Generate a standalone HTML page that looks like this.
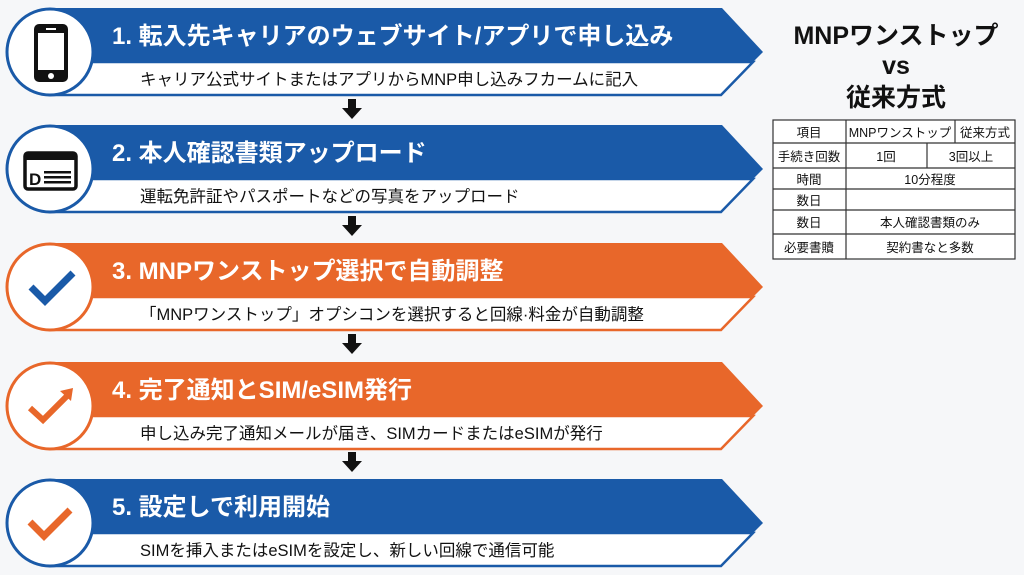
<!DOCTYPE html>
<html><head><meta charset="utf-8"><style>
body{margin:0;width:1024px;height:575px;background:#f6f7f9;overflow:hidden}
svg{display:block}
text{font-family:"Liberation Sans","Noto Sans CJK JP",sans-serif}
</style></head><body>
<svg width="1024" height="575" viewBox="0 0 1024 575">
<defs>
<g id="arr"><rect x="-4" y="0" width="8" height="10" fill="#111"/><polygon points="-10,9 10,9 0,20" fill="#111"/></g>
</defs>
<g>
<polygon points="50,8 722,8 763,52 753,62 50,62" fill="#1a5aa8"/>
<polygon points="50,62 753,62 721,95 50,95" fill="#fff" stroke="#1a5aa8" stroke-width="2.5"/>
<circle cx="50" cy="52" r="43" fill="#fff" stroke="#1a5aa8" stroke-width="3"/>
<rect x="34" y="24" width="34" height="58" rx="5" fill="#111"/><rect x="38" y="33" width="26" height="37" fill="#fff"/><circle cx="51" cy="76" r="3" fill="#fff"/><rect x="46" y="28" width="10" height="2" fill="#fff"/>
<text x="112" y="44" font-size="24" font-weight="bold" fill="#fff">1. 転入先キャリアのウェブサイト/アプリで申し込み</text>
<text x="140" y="85" font-size="16.5" fill="#111">キャリア公式サイトまたはアプリからMNP申し込みフカームに記入</text>
</g>
<use href="#arr" x="352" y="99"/>
<g>
<polygon points="50,125 722,125 763,169 753,179 50,179" fill="#1a5aa8"/>
<polygon points="50,179 753,179 721,212 50,212" fill="#fff" stroke="#1a5aa8" stroke-width="2.5"/>
<circle cx="50" cy="169" r="43" fill="#fff" stroke="#1a5aa8" stroke-width="3"/>
<rect x="25" y="153" width="51" height="36" rx="3" fill="none" stroke="#111" stroke-width="3.5"/><rect x="25" y="153" width="51" height="7" fill="#111"/>
<text x="29" y="185" font-size="17" font-weight="bold" fill="#111">D</text>
<rect x="44" y="171" width="27" height="2.5" fill="#111"/><rect x="44" y="176" width="27" height="2.5" fill="#111"/><rect x="44" y="181" width="27" height="2.5" fill="#111"/>
<text x="112" y="161" font-size="24" font-weight="bold" fill="#fff">2. 本人確認書類アップロード</text>
<text x="140" y="202" font-size="16.5" fill="#111">運転免許証やパスポートなどの写真をアップロード</text>
</g>
<use href="#arr" x="352" y="216"/>
<g>
<polygon points="50,243 722,243 763,287 753,297 50,297" fill="#e8672a"/>
<polygon points="50,297 753,297 721,330 50,330" fill="#fff" stroke="#e8672a" stroke-width="2.5"/>
<circle cx="50" cy="287" r="43" fill="#fff" stroke="#e8672a" stroke-width="3"/>
<polyline points="31,287 45,301 73,273" fill="none" stroke="#1a5aa8" stroke-width="7"/>
<text x="112" y="279" font-size="24" font-weight="bold" fill="#fff">3. MNPワンストップ選択で自動調整</text>
<text x="140" y="320" font-size="16.5" fill="#111">「MNPワンストップ」オプシコンを選択すると回線·料金が自動調整</text>
</g>
<use href="#arr" x="352" y="334"/>
<g>
<polygon points="50,362 722,362 763,406 753,416 50,416" fill="#e8672a"/>
<polygon points="50,416 753,416 721,449 50,449" fill="#fff" stroke="#e8672a" stroke-width="2.5"/>
<circle cx="50" cy="406" r="43" fill="#fff" stroke="#e8672a" stroke-width="3"/>
<polyline points="30,408 43,420 68,395" fill="none" stroke="#e8672a" stroke-width="6"/>
<polygon points="60,391 73,388 71,401" fill="#e8672a"/>
<text x="112" y="398" font-size="24" font-weight="bold" fill="#fff">4. 完了通知とSIM/eSIM発行</text>
<text x="140" y="439" font-size="16.5" fill="#111">申し込み完了通知メールが届き、SIMカードまたはeSIMが発行</text>
</g>
<use href="#arr" x="352" y="452"/>
<g>
<polygon points="50,479 722,479 763,523 753,533 50,533" fill="#1a5aa8"/>
<polygon points="50,533 753,533 721,566 50,566" fill="#fff" stroke="#1a5aa8" stroke-width="2.5"/>
<circle cx="50" cy="523" r="43" fill="#fff" stroke="#1a5aa8" stroke-width="3"/>
<polyline points="30,522 44,536 70,510" fill="none" stroke="#e8672a" stroke-width="7"/>
<text x="112" y="515" font-size="24" font-weight="bold" fill="#fff">5. 設定しで利用開始</text>
<text x="140" y="556" font-size="16.5" fill="#111">SIMを挿入またはeSIMを設定し、新しい回線で通信可能</text>
</g>
<g text-anchor="middle" fill="#111">
<text x="896" y="44" font-size="25" font-weight="bold">MNPワンストップ</text>
<text x="896" y="74" font-size="25" font-weight="bold">vs</text>
<text x="896" y="106" font-size="25" font-weight="bold">従来方式</text>
</g>
<rect x="773" y="120" width="242" height="139" fill="#fff" stroke="#333" stroke-width="1.2"/>
<g stroke="#333" stroke-width="1.2">
<line x1="773" y1="143" x2="1015" y2="143"/><line x1="773" y1="168" x2="1015" y2="168"/><line x1="773" y1="189" x2="1015" y2="189"/><line x1="773" y1="210" x2="1015" y2="210"/><line x1="773" y1="234" x2="1015" y2="234"/>
<line x1="846" y1="120" x2="846" y2="259"/><line x1="955" y1="120" x2="955" y2="143"/><line x1="927" y1="143" x2="927" y2="168"/>
</g>
<g font-size="12.5" fill="#111" text-anchor="middle">
<text x="809" y="137">項目</text><text x="900" y="137">MNPワンストップ</text><text x="985" y="137">従来方式</text>
<text x="809" y="161">手続き回数</text><text x="886" y="161">1回</text><text x="971" y="161">3回以上</text>
<text x="809" y="184">時間</text><text x="930" y="184">10分程度</text>
<text x="809" y="205">数日</text>
<text x="809" y="227">数日</text><text x="930" y="227">本人確認書類のみ</text>
<text x="809" y="252">必要書贖</text><text x="930" y="252">契約書なと多数</text>
</g>
</svg>
</body></html>
